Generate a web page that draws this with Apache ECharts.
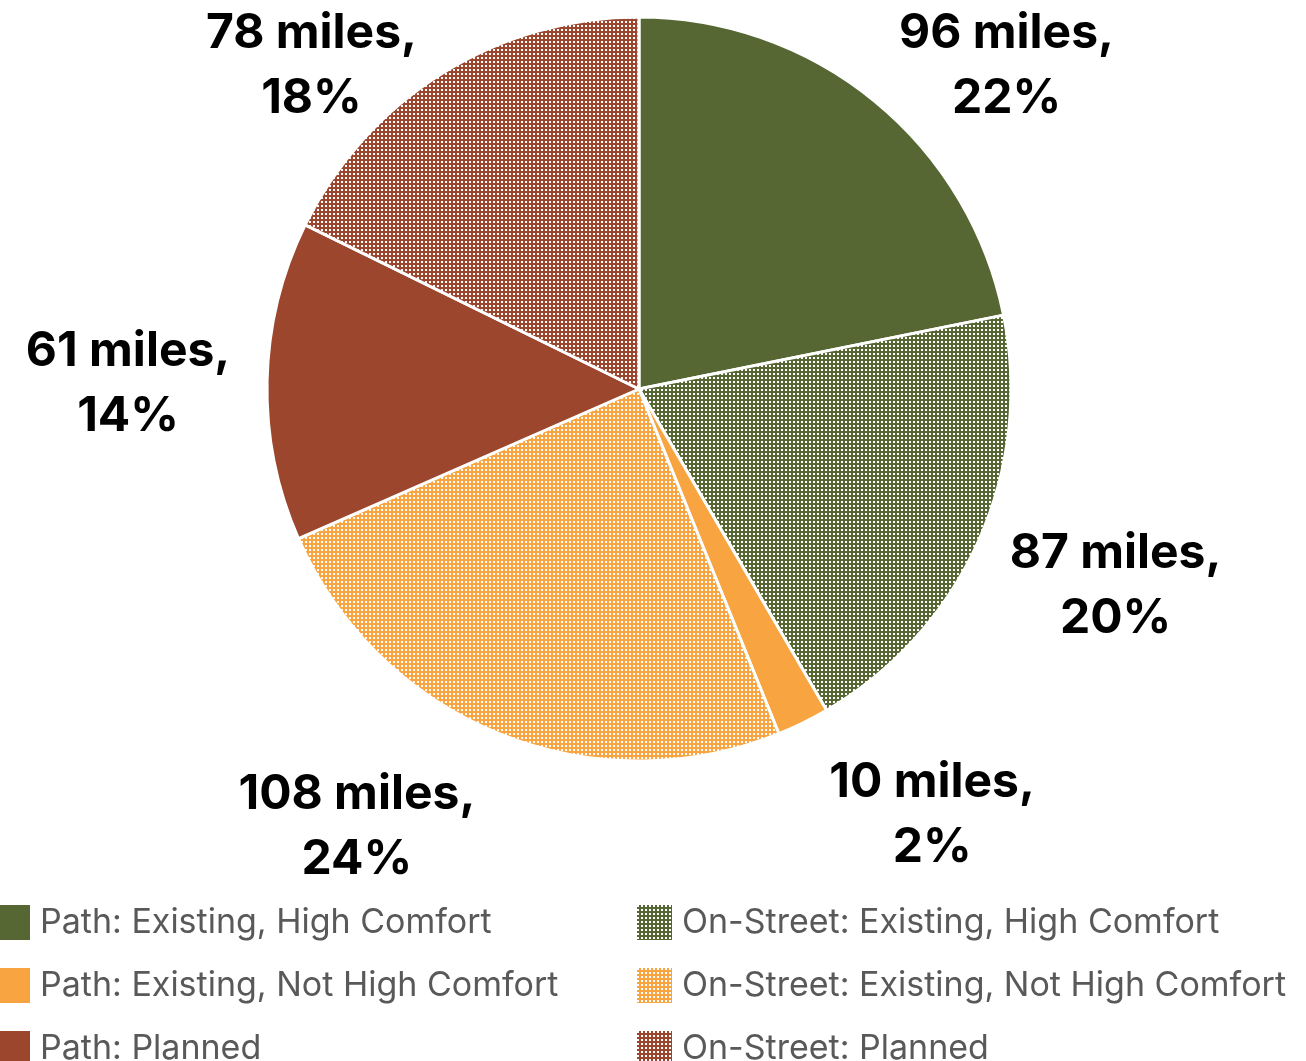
<!DOCTYPE html>
<html>
<head>
<meta charset="utf-8">
<script src="https://cdn.jsdelivr.net/npm/echarts@6/dist/echarts.min.js"></script>
<style>html,body{margin:0;padding:0;background:#fff;}#chart{width:1306px;height:1061px;}</style>
</head>
<body>
<div id="chart"></div>
<script>
var categories = [
  'Path: Existing, High Comfort',
  'On-Street: Existing, High Comfort',
  'Path: Existing, Not High Comfort',
  'On-Street: Existing, Not High Comfort',
  'Path: Planned',
  'On-Street: Planned'
];
var miles = [96, 87, 10, 108, 61, 78];
var baseColors = ['#566733', '#566733', '#F8A541', '#F8A541', '#9B462D', '#9B462D'];
var patterned = [false, true, false, true, false, true];
var leftLegend = [categories[0], categories[2], categories[4]];
var rightLegend = [categories[1], categories[3], categories[5]];

// small label nudges (style) relative to library placement
var nudgeX = [46, 13, 69, -91, -3, -59];
var nudgeY = [70, -11, -30, -33, 6, 108];

function pat(color) {
  var c = document.createElement('canvas');
  c.width = 4; c.height = 4;
  var g = c.getContext('2d');
  g.fillStyle = color; g.fillRect(0, 0, 4, 4);
  g.fillStyle = '#ffffff'; g.fillRect(1, 1, 2, 2);
  return { image: c, repeat: 'repeat' };
}

var mainData = categories.map(function (n, i) {
  return { name: n, value: miles[i], itemStyle: { color: patterned[i] ? pat(baseColors[i]) : baseColors[i] } };
});
var labelData = categories.map(function (n, i) {
  return { name: n, value: miles[i] };
});

var chart = echarts.init(document.getElementById('chart'), null, { renderer: 'canvas' });
var legendText = { fontSize: 34, color: '#595959', fontFamily: 'Inter', lineHeight: 37, padding: [0, 0, 0, 4] };
var legendBase = { orient: 'vertical', top: 903, height: 200, padding: 0, itemWidth: 37, itemHeight: 37, itemGap: 24, icon: 'rect', textStyle: legendText, selectedMode: false };
chart.setOption({
  backgroundColor: '#ffffff',
  animation: false,
  legend: [
    Object.assign({}, legendBase, { data: leftLegend, left: -7 }),
    Object.assign({}, legendBase, { data: rightLegend, left: 635 })
  ],
  series: [
    {
      type: 'pie',
      center: [639, 389],
      radius: [0, 372],
      startAngle: 90,
      clockwise: true,
      silent: true,
      label: { show: false },
      labelLine: { show: false },
      itemStyle: { borderColor: '#ffffff', borderWidth: 3 },
      data: mainData
    },
    {
      type: 'pie',
      center: [639, 389],
      radius: [505, 505],
      startAngle: 90,
      clockwise: true,
      silent: true,
      percentPrecision: 0,
      itemStyle: { color: 'rgba(0,0,0,0)', borderWidth: 0 },
      emphasis: { disabled: true },
      labelLine: { show: false },
      label: {
        show: true,
        position: 'inside',
        fontFamily: 'Inter',
        fontWeight: 'bold',
        fontSize: 48,
        lineHeight: 65,
        color: '#000000',
        align: 'center',
        formatter: function (p) { return p.value + ' miles,\n' + p.percent + '%'; }
      },
      labelLayout: function (p) {
        return { dx: nudgeX[p.dataIndex], dy: nudgeY[p.dataIndex] };
      },
      data: labelData
    }
  ]
});
</script>
</body>
</html>
